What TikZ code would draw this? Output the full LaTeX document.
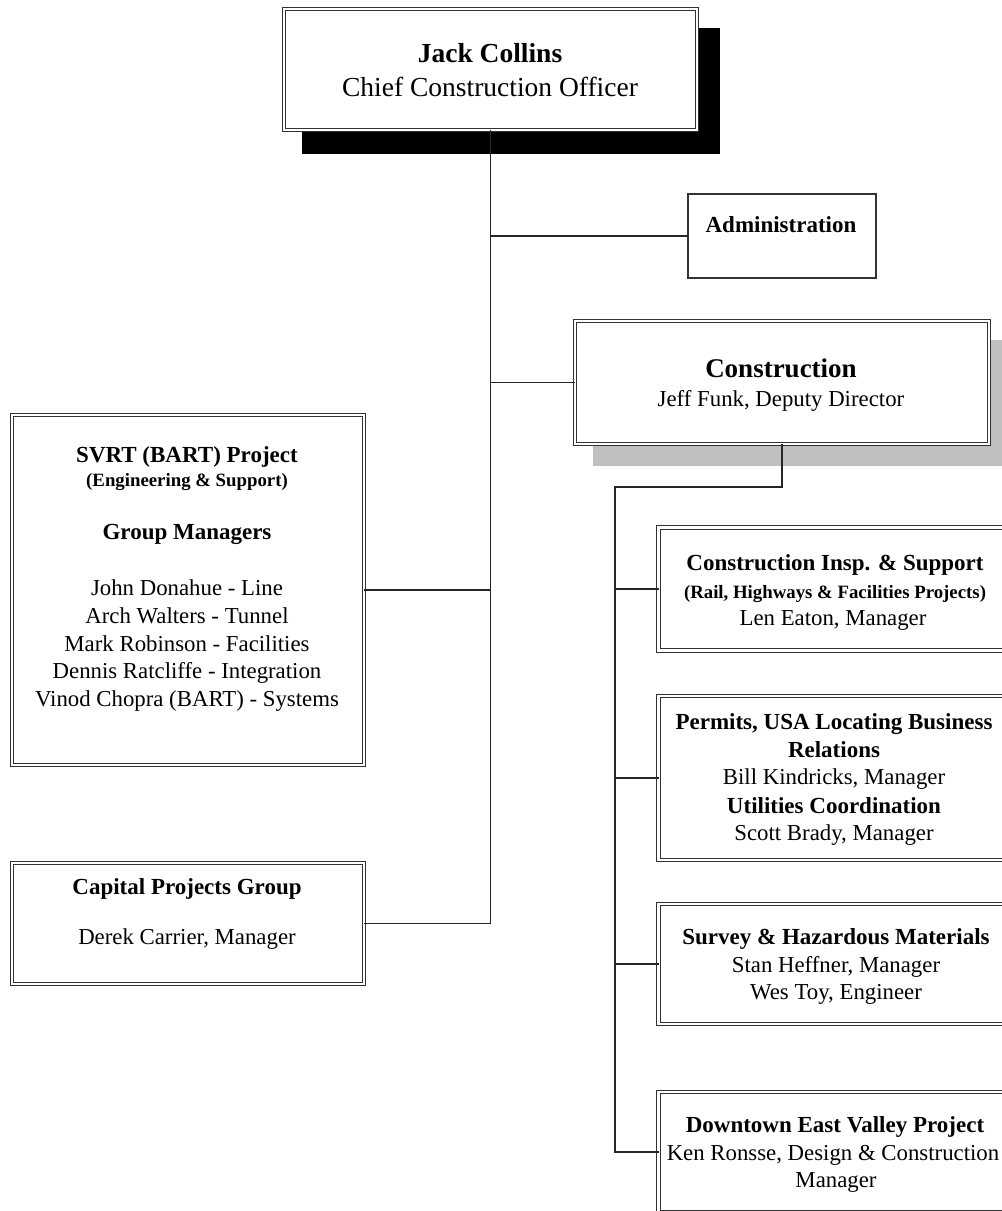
\documentclass[tikz,border=0pt]{standalone}
\usepackage{fontspec}
\setmainfont{Liberation Serif}
\begin{document}
\begin{tikzpicture}[x=1pt,y=-1pt,
  dbox/.style={draw=black!80, line width=1.2pt, double=white, double distance=2.4pt,
               fill=white, rectangle, inner sep=0pt, outer sep=0pt},
  sbox/.style={draw=black!80, line width=1.5pt, fill=white, rectangle, inner sep=0pt, outer sep=0pt},
  link/.style={draw=black!85, line width=1.6pt},
  ln/.style={anchor=base, inner sep=0pt, text=black},
  huge/.style={font=\fontsize{27.5}{33}\selectfont},
  large/.style={font=\fontsize{27}{32}\selectfont\bfseries},
  body/.style={font=\fontsize{22.8}{27}\selectfont},
  head/.style={font=\fontsize{23}{27}\selectfont\bfseries},
  sub/.style={font=\fontsize{18.8}{22}\selectfont\bfseries}
]
\useasboundingbox (0,0) rectangle (1002,1211);
\clip (0,0) rectangle (1002,1211);

% drop shadows
\fill[black] (302,28) rectangle (720,154);
\fill[black!25] (593,340) rectangle (1012,466);

% boxes
\node[dbox, minimum width=413pt, minimum height=121pt] (ceo)  at (490.5,69.5) {};
\node[sbox, minimum width=188pt, minimum height=84pt]  (adm)  at (782,236) {};
\node[dbox, minimum width=414pt, minimum height=123pt] (cons) at (782,382.5) {};
\node[dbox, minimum width=352pt, minimum height=350pt] (svrt) at (188,590) {};
\node[dbox, minimum width=352pt, minimum height=121pt] (cap)  at (188,923.5) {};
\node[dbox, minimum width=353pt, minimum height=123pt] (insp) at (835,589) {};
\node[dbox, minimum width=353pt, minimum height=164pt] (perm) at (835,778) {};
\node[dbox, minimum width=353pt, minimum height=120pt] (surv) at (835,964) {};
\node[dbox, minimum width=353pt, minimum height=120pt] (dtv)  at (835,1152) {};

% reporting lines from the chief
\draw[link] (ceo.south) -- (cap.east -| ceo.south) -- (cap.east);
\draw[link] (adm.west)  -- (adm.west -| ceo.south);
\draw[link] (cons.west) -- (cons.west -| ceo.south);
\draw[link] (svrt.east) -- (svrt.east -| ceo.south);

% reporting lines under construction
\coordinate (cj) at (615,487);
\draw[link] (cons.south) |- (cj) -- (cj |- dtv.west) -- (dtv.west);
\draw[link] (insp.west) -- (insp.west -| cj);
\draw[link] (perm.west) -- (perm.west -| cj);
\draw[link] (surv.west) -- (surv.west -| cj);

% texts
\node[ln, huge, font=\fontsize{27.5}{33}\selectfont\bfseries] (ceo1) at (490,62) {Jack Collins};
\node[ln, huge] (ceo2) at (490,96) {Chief Construction Officer};

\node[ln, head] (adm1) at (781,232) {Administration};

\node[ln, large] (cons1) at (781,377) {Construction};
\node[ln, body]  (cons2) at (781,406) {Jeff Funk, Deputy Director};

\node[ln, head] (sv1) at (187,462) {SVRT (BART) Project};
\node[ln, sub]  (sv2) at (187,486) {(Engineering \& Support)};
\node[ln, head] (sv3) at (187,539) {Group Managers};
\node[ln, body] (sv4) at (187,595) {John Donahue - Line};
\node[ln, body] (sv5) at (187,623) {Arch Walters - Tunnel};
\node[ln, body] (sv6) at (187,651) {Mark Robinson - Facilities};
\node[ln, body] (sv7) at (187,678) {Dennis Ratcliffe - Integration};
\node[ln, body] (sv8) at (187,706) {Vinod Chopra (BART) - Systems};

\node[ln, head] (cp1) at (187,894) {Capital Projects Group};
\node[ln, body] (cp2) at (187,944) {Derek Carrier, Manager};

\node[ln, head] (in1) at (835,570) {Construction Insp. \& Support};
\node[ln, sub]  (in2) at (835,598) {(Rail, Highways \& Facilities Projects)};
\node[ln, body] (in3) at (833,625) {Len Eaton, Manager};

\node[ln, head] (pm1) at (834,729) {Permits, USA Locating Business};
\node[ln, head] (pm2) at (834,757) {Relations};
\node[ln, body] (pm3) at (834,784) {Bill Kindricks, Manager};
\node[ln, head] (pm4) at (834,813) {Utilities Coordination};
\node[ln, body] (pm5) at (834,840) {Scott Brady, Manager};

\node[ln, head] (sr1) at (836,944) {Survey \& Hazardous Materials};
\node[ln, body] (sr2) at (836,972) {Stan Heffner, Manager};
\node[ln, body] (sr3) at (836,999) {Wes Toy, Engineer};

\node[ln, head] (dt1) at (835,1132) {Downtown East Valley Project};
\node[ln, body] (dt2) at (833,1160) {Ken Ronsse, Design \& Construction};
\node[ln, body] (dt3) at (836,1187) {Manager};
\end{tikzpicture}
\end{document}
